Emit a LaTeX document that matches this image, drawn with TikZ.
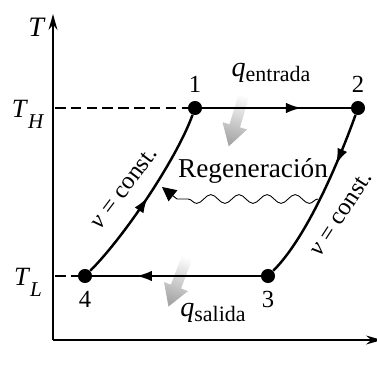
\documentclass[tikz,border=0pt]{standalone}
\usepackage{fontspec}
\setmainfont{Liberation Serif}
\usetikzlibrary{arrows.meta, decorations.markings, decorations.pathmorphing, shapes.arrows}

\newcommand{\Tsub}[1]{{\fontsize{15}{17}\selectfont\textit{T}}\raisebox{-0.45em}{\fontsize{12}{14}\selectfont\textit{#1}}}
\newcommand{\qsub}[1]{{\fontsize{16}{18}\selectfont\textit{q}}\raisebox{-0.2em}{\fontsize{12.5}{14}\selectfont #1}}

\tikzset{
  eje/.style={line width=1.3pt, -{Stealth[length=9pt,width=5pt]}},
  proceso/.style={line width=1.4pt},
  estado/.style={circle, fill=black, inner sep=0pt, minimum size=8pt},
  marca/.style={postaction={decorate}, decoration={markings,
      mark=at position #1 with {\arrow{Latex[length=9pt,width=6pt]}}}},
  calor/.style={single arrow, draw=none, inner xsep=0pt, inner ysep=2.9pt,
      single arrow head extend=4.2pt, single arrow tip angle=62,
      top color=white, bottom color=gray!70},
}

\begin{document}
\begin{tikzpicture}[x=0.02cm, y=-0.02cm, every node/.style={font=\fontsize{14}{16}\selectfont}]
  \useasboundingbox (0,0) rectangle (377,367);

  % ejes
  \coordinate (O) at (53,340);
  \coordinate (ejeT) at (53,14);
  \coordinate (ejeS) at (382,340);
  \draw[eje] (O) -- (ejeT);
  \draw[eje] (O) -- (ejeS);
  \node (lblT) at (37,27) {\fontsize{16}{18}\selectfont\textit{T}};

  % calor
  \node[calor, minimum height=32pt, rotate=-106.5, shading angle=-16] (qin) at (238,115) {};
  \node[calor, minimum height=32pt, rotate=-110.7, shading angle=-20] (qout) at (180,276) {};
  \node (lblqin) at (271,73) {\qsub{entrada}};
  \node (lblqout) at (213,313) {\qsub{salida}};

  % estados
  \node[estado, label={[label distance=1pt]above:1}] (e1) at (195,108) {};
  \node[estado, label={[label distance=1pt]above:2}] (e2) at (358,108) {};
  \node[estado, label={[label distance=1pt]below:3}] (e3) at (268,276) {};
  \node[estado, label={[label distance=1pt]below:4}] (e4) at (85,276) {};

  % temperaturas
  \coordinate (tH) at (55,108);
  \coordinate (tL) at (55,276);
  \node (lblTH) at (28,114) {\Tsub{H}};
  \node (lblTL) at (28,282) {\Tsub{L}};
  \draw[line width=1pt, dash pattern=on 6pt off 3pt] (tH) -- (e1);
  \draw[line width=1pt, dash pattern=on 6pt off 3pt] (tL) -- (e4);

  % ciclo
  \draw[proceso, marca=0.67] (e1) -- (e2);
  \draw[proceso, marca=0.3] (e2) .. controls (340,158) and (308,236) .. (e3);
  \draw[proceso, marca=0.74] (e3) -- (e4);
  \draw[proceso, marca=0.5] (e4) .. controls (125,236) and (177,158) .. (e1);

  \node[rotate=53] (v41) at (124,188) {\textit{v} = const.};
  \node[rotate=57] (v23) at (341,214) {\textit{v} = const.};

  % regeneracion
  \node (regen) at (253,171) {\fontsize{15.5}{17}\selectfont Regeneración};
  \coordinate (rA) at (318,199);
  \coordinate (rB) at (177,199);
  \coordinate (rC) at (162,187);
  \draw[line width=0.5pt, decorate, decoration={snake, amplitude=2.5pt, segment length=16pt}] (rA) -- (rB);
  \draw[line width=0.5pt, -{Triangle[length=8pt,width=8pt]}] (rB) -- (rC);
\end{tikzpicture}
\end{document}
